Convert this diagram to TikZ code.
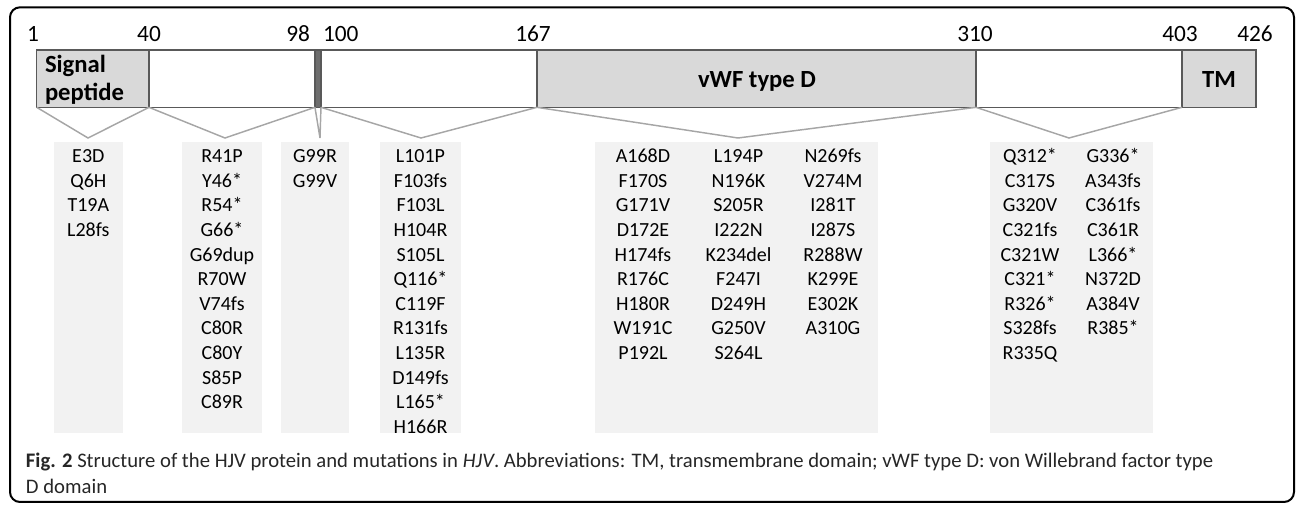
\documentclass[tikz,border=0pt]{standalone}
\usepackage{fontspec}
\setmainfont{Carlito}
\usepackage{xcolor}
\usepackage{tikz}
\usetikzlibrary{calc,positioning}
\definecolor{barline}{HTML}{595959}
\definecolor{domfill}{HTML}{D9D9D9}
\definecolor{stripfill}{HTML}{6E6E6E}
\definecolor{boxfill}{HTML}{F2F2F2}
\definecolor{linkgray}{HTML}{A6A6A6}
\tikzset{
  seg/.style={draw=barline, line width=0.8pt, fill=white, minimum height=43pt,
  inner sep=0pt, anchor=north west},
  dom/.style={seg, fill=domfill},
  num/.style={anchor=base, inner sep=0pt, font=\fontsize{17.5}{21}\selectfont},
  domlabel/.style={anchor=base, inner sep=0pt,
  font=\fontsize{18.5}{22}\selectfont\bfseries},
  mutbox/.style={fill=boxfill, minimum height=218.5pt, inner sep=0pt,
  anchor=north},
  mut/.style={anchor=base, inner sep=0pt, font=\fontsize{15}{18}\selectfont},
  link/.style={draw=linkgray, line width=1.1pt},
  outerframe/.style={draw=black, line width=1.5pt, rounded corners=7.5pt},
  caption/.style={anchor=base west, inner sep=0pt, text=black!85,
  font=\fontsize{15.5}{19}\selectfont}
}

\begin{document}
\begin{tikzpicture}[x=0.75pt, y=-0.75pt, node distance=0cm, outer sep=0pt]
    \useasboundingbox (0,0) rectangle (1296,505);
    \draw[outerframe] (10,7.3) rectangle (1294,502);
    \node (S1) [dom, minimum width=84.2pt] at (36.7,50) {};
    \node (S2) [seg, minimum width=124.5pt] at (S1.north east) {};
    \node (S3) [seg, fill=stripfill, minimum width=4.5pt] at (S2.north east) {};
    \node (S4) [seg, minimum width=162pt] at (S3.north east) {};
    \node (S5) [dom, minimum width=329.25pt] at (S4.north east) {};
    \node (S6) [seg, minimum width=154.5pt] at (S5.north east) {};
    \node (S7) [dom, minimum width=55.5pt] at (S6.north east) {};
    \node[domlabel, anchor=base west] (sp1) at (45,72.7) {Signal};
    \node[domlabel, anchor=base west] (sp2) at (45,101) {peptide};
    \node[domlabel] (vwf) at (757,87.3) {vWF type D};
    \node[domlabel] (tm) at (1219,87.3) {TM};
    \node[num] (n1) at (33,41.7) {1};
    \node[num] (n40) at (149,41.7) {40};
    \node[num, anchor=base east] (n98) at (310,41.7) {98};
    \node[num, anchor=base west] (n100) at (323,41.7) {100};
    \node[num] (n167) at (533,41.7) {167};
    \node[num] (n310) at (975,41.7) {310};
    \node[num] (n403) at (1180,41.7) {403};
    \node[num] (n426) at (1255,41.7) {426};
    \node (B1) [mutbox, minimum width=51.5pt] at (88.35,141.7) {};
    \node (B2) [mutbox, minimum width=60.5pt] at (222,141.7) {};
    \node (B3) [mutbox, minimum width=51pt] at (315,141.7) {};
    \node (B4) [mutbox, minimum width=60.75pt] at (420.5,141.7) {};
    \node (B5) [mutbox, minimum width=212.25pt] at (736.5,141.7) {};
    \node (B6) [mutbox, minimum width=122.25pt] at (1071.5,141.7) {};
    \coordinate (V1) at (88,138);
    \coordinate (V2) at (225,138);
    \coordinate (V3) at (320,138);
    \coordinate (V4) at (421,138);
    \coordinate (V5) at (738,138);
    \coordinate (V6) at (1069,138);
    \foreach \s/\v in {S1/V1,S2/V2,S3/V3,S4/V4,S5/V5,S6/V6}
      \draw[link] (\s.south west) -- (\v) -- (\s.south east);
    \foreach \c/\x/\lst in {
      a/88.35/{E3D,Q6H,T19A,L28fs},
      b/222/{R41P,Y46*,R54*,G66*,G69dup,R70W,V74fs,C80R,C80Y,S85P,C89R},
      c/315/{G99R,G99V},
      d/420.5/{L101P,F103fs,F103L,H104R,S105L,Q116*,C119F,R131fs,L135R,D149fs,L165*,H166R},
      e/643/{A168D,F170S,G171V,D172E,H174fs,R176C,H180R,W191C,P192L},
      f/738.5/{L194P,N196K,S205R,I222N,K234del,F247I,D249H,G250V,S264L},
      g/833/{N269fs,V274M,I281T,I287S,R288W,K299E,E302K,A310G},
      h/1030/{Q312*,C317S,G320V,C321fs,C321W,C321*,R326*,S328fs,R335Q},
      k/1113/{G336*,A343fs,C361fs,C361R,L366*,N372D,A384V,R385*}}
      \foreach \m [count=\i from 0] in \lst
        \node[mut] (\c\i) at (\x,162.7+24.6*\i) {\m};
    \node[caption] (cap1) at (26,467.3) {\textbf{Fig. 2} Structure of the HJV
    protein and mutations in \textit{HJV}. Abbreviations: TM, transmembrane
    domain; vWF type D: von Willebrand factor type};
    \node[caption] (cap2) at (26,493.3) {D domain};
\end{tikzpicture}
\end{document}
